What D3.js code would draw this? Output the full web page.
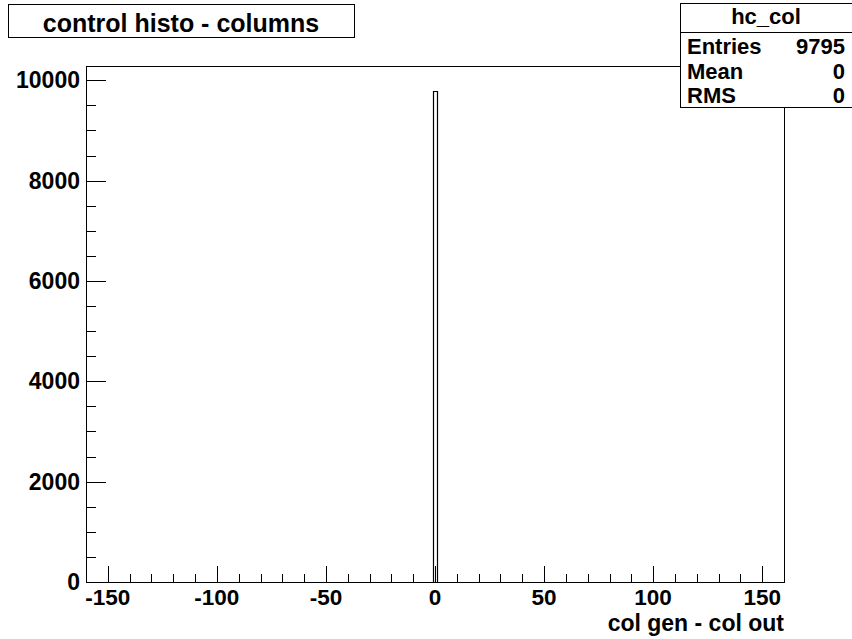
<!DOCTYPE html>
<html lang="en">
<head>
    <meta charset="UTF-8">
    <script src="https://d3js.org/d3.v7.min.js" charset="utf-8"></script>
    <title>control histo - columns</title>
    <style>
        body { margin: 0; background: white; }
        text { font-family: "Liberation Sans", Arial, sans-serif; font-weight: bold; }
    </style>
</head>
<body>
<div class="chart"></div>
<script>
    // histogram data (only non-empty bins)
    const binLow = [-1];
    const binHigh = [1];
    const binCounts = [9795];

    const xDomain = [-160, 160];
    const yMax = 10285;
    const xMajorTicks = [-150, -100, -50, 0, 50, 100, 150];
    const yMajorTicks = [0, 2000, 4000, 6000, 8000, 10000];

    const statsRows = [["Entries", "9795"], ["Mean", "0"], ["RMS", "0"]];

    const width = 852, height = 639;
    const frame = { left: 86, right: 784, top: 66, bottom: 582 };

    const svg = d3.select(".chart").append("svg")
        .attr("width", width)
        .attr("height", height);

    const x = d3.scaleLinear().domain(xDomain).range([frame.left, frame.right]);
    const y = d3.scaleLinear().domain([0, yMax]).range([frame.bottom, frame.top]);

    // frame
    svg.append("rect")
        .attr("x", frame.left + 0.5).attr("y", frame.top + 0.5)
        .attr("width", frame.right - frame.left).attr("height", frame.bottom - frame.top)
        .attr("fill", "white").attr("stroke", "black").attr("stroke-width", 1);

    // histogram outline
    const bars = binCounts.map((c, i) => ({ lo: binLow[i], hi: binHigh[i], c }));
    svg.selectAll("path.bin")
        .data(bars)
        .enter()
        .append("path")
        .attr("class", "bin")
        .attr("d", d => `M${Math.round(x(d.lo)) + 0.5},${y(0)}V${Math.round(y(d.c)) + 0.5}H${Math.round(x(d.hi)) + 0.5}V${y(0)}`)
        .attr("fill", "none")
        .attr("stroke", "black")
        .attr("stroke-width", 1.2);

    // x axis ticks (inside the frame, ROOT style)
    const xMinor = d3.range(-160, 161, 10).filter(v => v % 50 !== 0);
    const gx = svg.append("g");
    gx.selectAll("line.maj").data(xMajorTicks).enter().append("line")
        .attr("x1", d => Math.round(x(d)) + 0.5).attr("x2", d => Math.round(x(d)) + 0.5)
        .attr("y1", frame.bottom).attr("y2", frame.bottom - 16)
        .attr("stroke", "black");
    gx.selectAll("line.min").data(xMinor).enter().append("line")
        .attr("x1", d => Math.round(x(d)) + 0.5).attr("x2", d => Math.round(x(d)) + 0.5)
        .attr("y1", frame.bottom).attr("y2", frame.bottom - 8)
        .attr("stroke", "black");
    gx.selectAll("text").data(xMajorTicks).enter().append("text")
        .attr("x", d => x(d)).attr("y", 605)
        .attr("text-anchor", "middle")
        .attr("font-size", 22.5)
        .text(d => d);

    svg.append("text")
        .attr("x", frame.right).attr("y", 631)
        .attr("text-anchor", "end")
        .attr("font-size", 23)
        .text("col gen - col out");

    // y axis ticks
    const yMinor = d3.range(0, yMax, 500).filter(v => v % 2000 !== 0);
    const gy = svg.append("g");
    gy.selectAll("line.maj").data(yMajorTicks).enter().append("line")
        .attr("x1", frame.left).attr("x2", frame.left + 20)
        .attr("y1", d => Math.round(y(d)) + 0.5).attr("y2", d => Math.round(y(d)) + 0.5)
        .attr("stroke", "black");
    gy.selectAll("line.min").data(yMinor).enter().append("line")
        .attr("x1", frame.left).attr("x2", frame.left + 10)
        .attr("y1", d => Math.round(y(d)) + 0.5).attr("y2", d => Math.round(y(d)) + 0.5)
        .attr("stroke", "black");
    gy.selectAll("text").data(yMajorTicks).enter().append("text")
        .attr("x", 80).attr("y", d => y(d) + 8)
        .attr("text-anchor", "end")
        .attr("font-size", 23)
        .text(d => d);

    // title box
    svg.append("rect")
        .attr("x", 8.5).attr("y", 4.5).attr("width", 346).attr("height", 33)
        .attr("fill", "white").attr("stroke", "black");
    svg.append("text")
        .attr("x", 181).attr("y", 32)
        .attr("text-anchor", "middle")
        .attr("font-size", 25)
        .text("control histo - columns");

    // stats box
    const sb = { x: 680.5, y: 3.5, w: 175, h: 104 };
    svg.append("rect")
        .attr("x", sb.x).attr("y", sb.y).attr("width", sb.w).attr("height", sb.h)
        .attr("fill", "white").attr("stroke", "black");
    svg.append("line")
        .attr("x1", sb.x).attr("x2", sb.x + sb.w)
        .attr("y1", 32.5).attr("y2", 32.5)
        .attr("stroke", "black");
    svg.append("text")
        .attr("x", 766).attr("y", 24)
        .attr("text-anchor", "middle")
        .attr("font-size", 22)
        .text("hc_col");
    statsRows.forEach((r, i) => {
        const ty = 54 + i * 24.5;
        svg.append("text").attr("x", 687).attr("y", ty)
            .attr("font-size", 22).text(r[0]);
        svg.append("text").attr("x", 845).attr("y", ty)
            .attr("text-anchor", "end")
            .attr("font-size", 22).text(r[1]);
    });
</script>
</body>
</html>
